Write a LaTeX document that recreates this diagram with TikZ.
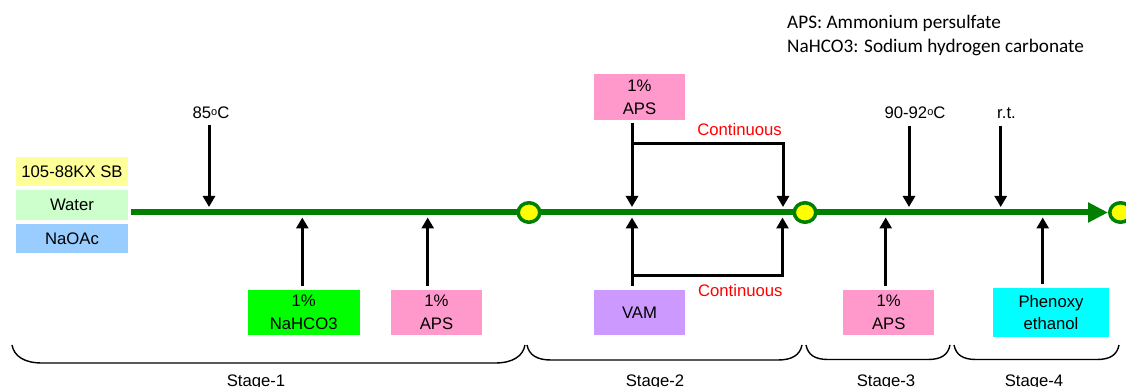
\documentclass[tikz,border=0pt]{standalone}
\usepackage{fontspec}
\setmainfont{Liberation Sans}
\newfontfamily\legendfont{Carlito}
\usetikzlibrary{arrows.meta,shapes.geometric,backgrounds}

\definecolor{boxyellow}{HTML}{FFFF99}
\definecolor{boxmint}{HTML}{CCFFCC}
\definecolor{boxblue}{HTML}{99CCFF}
\definecolor{boxgreen}{HTML}{00FF00}
\definecolor{boxpink}{HTML}{FF99CC}
\definecolor{boxviolet}{HTML}{CC99FF}
\definecolor{boxcyan}{HTML}{00FFFF}
\definecolor{flowgreen}{HTML}{008000}
\definecolor{ringyellow}{HTML}{FFFF00}
\definecolor{notered}{HTML}{FF0000}

% small raised "o" used as degree mark
\newcommand{\degmark}{{\fontsize{11}{11}\selectfont\raisebox{2.8pt}{o}}}

\begin{document}
\begin{tikzpicture}[x=1pt,y=-1pt,
  lbl/.style={font=\fontsize{16.7}{22.7}\selectfont, inner sep=0pt},
  chem/.style={lbl, align=center, anchor=center},
  legend/.style={font=\legendfont\fontsize{19.2}{22}\selectfont, inner sep=0pt, anchor=west},
  ring/.style={ellipse, draw=flowgreen, fill=ringyellow, line width=3.5pt,
    minimum width=21.5pt, minimum height=19.5pt, inner sep=0pt},
  mainline/.style={draw=flowgreen, line width=6pt, -{Triangle[length=20pt,width=19pt]}},
  arr/.style={line width=3pt, line join=miter, -{Triangle[length=11pt,width=12pt]}},
  stagebrace/.style={line width=1.4pt},
  stagelbl/.style={lbl, anchor=base}]

\useasboundingbox (0,0) rectangle (1126,387);

% legend
\node[legend] (leg1) at (787,23) {APS: Ammonium persulfate};
\node[legend] (leg2) at (787,47) {NaHCO3: Sodium hydrogen carbonate};

% initial charge
\node[chem, fill=boxyellow, minimum width=112pt, minimum height=29pt] (kx) at (72,171.5) {105-88KX SB};
\node[chem, fill=boxmint, minimum width=112pt, minimum height=30pt] (water) at (72,205) {Water};
\node[chem, fill=boxblue, minimum width=112pt, minimum height=29pt] (naoac) at (72,238.5) {NaOAc};

% process line with stage markers
\coordinate (gstart) at (131,212.5);
\node[ring] (c1) at (529,212.5) {};
\node[ring] (c2) at (805,212.5) {};
\node[ring] (c3) at (1120.5,212.5) {};
\begin{scope}[on background layer]
  \draw[mainline] (gstart) -- (c3.west);
\end{scope}

% arrow targets on the line
\coordinate (d1) at (209,207);
\coordinate (d2) at (632,207);
\coordinate (d3) at (783,207);
\coordinate (d4) at (909,207);
\coordinate (d5) at (1000.7,207);
\coordinate (u1) at (302.3,217.5);
\coordinate (u2) at (427.7,217.5);
\coordinate (u3) at (632,217.5);
\coordinate (u4) at (782.5,217.5);
\coordinate (u5) at (885.7,217.5);
\coordinate (u6) at (1042.7,217.5);
\coordinate (btop) at (632,144);
\coordinate (bbot) at (632,275);

% temperatures
\node[lbl] (t85) at (211,113) {85\degmark C};
\node[lbl] (t90) at (915,113) {90-92\degmark C};
\node[lbl] (trt) at (1006.5,113) {r.t.};
\draw[arr, shorten <=6pt] (t85.south -| d1) -- (d1);
\draw[arr, shorten <=7pt] (t90.south -| d4) -- (d4);
\draw[arr, shorten <=7pt] (trt.south -| d5) -- (d5);

% additions
\node[chem, fill=boxgreen, minimum width=112pt, minimum height=44.7pt] (nahco) at (303.7,312.4) {1\%\\NaHCO3};
\node[chem, fill=boxpink, minimum width=90.4pt, minimum height=44.7pt] (aps1) at (436.5,312.4) {1\%\\APS};
\node[chem, fill=boxpink, minimum width=91pt, minimum height=46pt] (aps2) at (639.5,97) {1\%\\APS};
\node[chem, fill=boxviolet, minimum width=91pt, minimum height=45pt] (vam) at (639.5,312.5) {VAM};
\node[chem, fill=boxpink, minimum width=90.7pt, minimum height=45pt] (aps3) at (888.7,312.5) {1\%\\APS};
\node[chem, fill=boxcyan, minimum width=116pt, minimum height=48.7pt] (phen) at (1051,312.4) {Phenoxy\\ethanol};

\draw[arr, shorten <=4pt] (nahco.north -| u1) -- (u1);
\draw[arr, shorten <=4pt] (aps1.north -| u2) -- (u2);
\draw[arr, shorten <=3pt] (aps2.south -| d2) -- (d2);
\draw[arr] (btop) -| (d3);
\draw[arr, shorten <=4pt] (vam.north -| u3) -- (u3);
\draw[arr] (bbot) -| (u4);
\draw[arr, shorten <=4pt] (aps3.north -| u5) -- (u5);
\draw[arr, shorten <=4pt] (phen.north -| u6) -- (u6);

\node[lbl, text=notered, anchor=east] (cont1) at (782,129.3) {Continuous};
\node[lbl, text=notered, anchor=east] (cont2) at (782.7,290.7) {Continuous};

% stage brackets
\draw[stagebrace] (12,345) .. controls (14,356) and (24,363) .. (42,363) -- (495,363)
  .. controls (513,363) and (523,356) .. (525,345);
\draw[stagebrace] (527,345) .. controls (529,355) and (537,360) .. (551,360) -- (778,360)
  .. controls (792,360) and (800,355) .. (802,345);
\draw[stagebrace] (806,345) .. controls (808,355) and (815,359.5) .. (828,359.5) -- (928,359.5)
  .. controls (941,359.5) and (948,355) .. (950,345);
\draw[stagebrace] (954,345) .. controls (956,355) and (963,359.5) .. (976,359.5) -- (1097,359.5)
  .. controls (1110,359.5) and (1117,355) .. (1119,345);

\node[stagelbl] (s1) at (256,386) {Stage-1};
\node[stagelbl] (s2) at (655,386) {Stage-2};
\node[stagelbl] (s3) at (886,386) {Stage-3};
\node[stagelbl] (s4) at (1034,386) {Stage-4};

\end{tikzpicture}
\end{document}
